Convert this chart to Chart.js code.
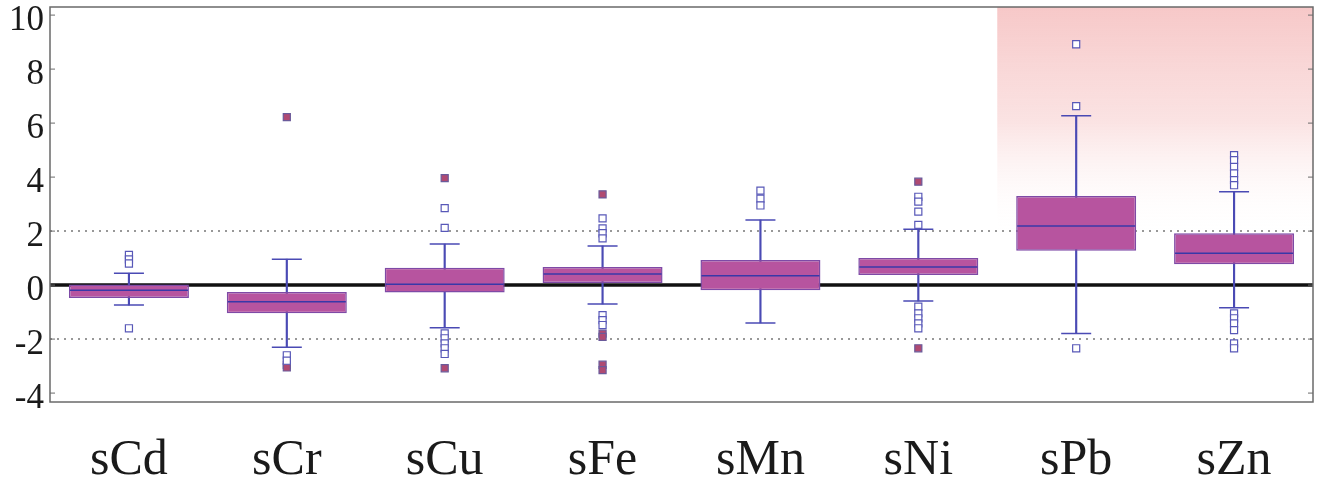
<!DOCTYPE html>
<html>
<head>
<meta charset="utf-8">
<script src="https://cdn.jsdelivr.net/npm/chart.js@4.4.1/dist/chart.umd.min.js"></script>
<style>
  html, body { margin: 0; padding: 0; background: #fff; }
  #wrap { width: 1319px; height: 482px; }
</style>
</head>
<body>
<div id="wrap"><canvas id="box-chart"></canvas></div>
<script>
// categories and box statistics
const categories = ['sCd', 'sCr', 'sCu', 'sFe', 'sMn', 'sNi', 'sPb', 'sZn'];
const q1 = [-0.48, -1.04, -0.27, 0.08, -0.19, 0.37, 1.27, 0.77];
const q3 = [0.02, -0.26, 0.64, 0.67, 0.93, 1.0, 3.3, 1.92];
const medians = [-0.19, -0.62, 0.03, 0.41, 0.35, 0.67, 2.19, 1.18];
const whiskerLow = [-0.74, -2.3, -1.58, -0.7, -1.4, -0.59, -1.79, -0.84];
const whiskerHigh = [0.44, 0.96, 1.52, 1.45, 2.41, 2.07, 6.27, 3.46];

// outliers, one list per category
const outliersOpen = [
  [1.12, 0.95, 0.8, -1.6],
  [-2.6, -2.8],
  [2.85, 2.12, -1.79, -1.97, -2.16, -2.34, -2.55],
  [2.47, 2.1, 1.92, 1.73, -1.11, -1.3, -1.48],
  [3.5, 3.2, 2.95],
  [3.27, 3.09, 2.72, 2.23, -0.8, -1.05, -1.23, -1.42, -1.6],
  [8.92, 6.63, -2.34],
  [4.81, 4.63, 4.38, 4.14, 3.89, 3.7, -1.05, -1.23, -1.42, -1.67, -2.16, -2.34]
];
const outliersFilled = [
  [],
  [6.22, -2.95, -3.05],
  [3.96, -3.08],
  [3.36, -1.8, -1.92, -2.95, -3.15],
  [],
  [3.83, -2.34],
  [],
  []
];

// axis ticks and reference lines
const yTicks = [-4, -2, 0, 2, 4, 6, 8, 10];
const yMin = -4.33;
const yMax = 10.3;
const dottedLines = [2, -2];
const zeroLine = 0;
const shadedCats = ['sPb', 'sZn'];
const shadeDownTo = 1.8;

function pointsFrom(lists) {
  const pts = [];
  lists.forEach((vals, i) => {
    vals.forEach(v => pts.push({ x: categories[i], y: v }));
  });
  return pts;
}

const capPoints = [];
categories.forEach((c, i) => {
  capPoints.push({ x: c, y: whiskerLow[i] });
  capPoints.push({ x: c, y: whiskerHigh[i] });
});

// background shading, reference lines, frame
const backdropPlugin = {
  id: 'backdrop',
  beforeDatasetsDraw(chart) {
    const { ctx, chartArea, scales } = chart;
    const x = scales.x, y = scales.y;
    const half = (x.getPixelForValue(1) - x.getPixelForValue(0)) / 2;

    // pink shaded region
    const i0 = categories.indexOf(shadedCats[0]);
    const i1 = categories.indexOf(shadedCats[1]);
    const left = x.getPixelForValue(i0) - half;
    const right = Math.min(x.getPixelForValue(i1) + half, chartArea.right);
    const bottom = y.getPixelForValue(shadeDownTo);
    const grad = ctx.createLinearGradient(0, chartArea.top, 0, bottom);
    grad.addColorStop(0, 'rgba(245, 190, 190, 0.85)');
    grad.addColorStop(0.5, 'rgba(248, 208, 208, 0.6)');
    grad.addColorStop(1, 'rgba(255, 255, 255, 0)');
    ctx.save();
    ctx.fillStyle = grad;
    ctx.fillRect(left, chartArea.top, right - left, bottom - chartArea.top);

    // dotted reference lines
    ctx.strokeStyle = '#777';
    ctx.lineWidth = 1.5;
    ctx.setLineDash([2, 5]);
    dottedLines.forEach(v => {
      const py = y.getPixelForValue(v);
      ctx.beginPath();
      ctx.moveTo(chartArea.left, py);
      ctx.lineTo(chartArea.right, py);
      ctx.stroke();
    });

    // zero line
    ctx.setLineDash([]);
    ctx.strokeStyle = '#111';
    ctx.lineWidth = 3.5;
    const pz = y.getPixelForValue(zeroLine);
    ctx.beginPath();
    ctx.moveTo(chartArea.left, pz);
    ctx.lineTo(chartArea.right, pz);
    ctx.stroke();
    ctx.restore();
  },
  afterDraw(chart) {
    const { ctx, chartArea, scales } = chart;
    ctx.save();
    ctx.strokeStyle = '#6a6a6a';
    ctx.lineWidth = 1.5;
    ctx.strokeRect(chartArea.left, chartArea.top, chartArea.right - chartArea.left, chartArea.bottom - chartArea.top);
    // small inward ticks on both sides
    ctx.lineWidth = 1;
    yTicks.forEach(v => {
      const py = scales.y.getPixelForValue(v);
      ctx.beginPath();
      ctx.moveTo(chartArea.left, py);
      ctx.lineTo(chartArea.left + 5, py);
      ctx.moveTo(chartArea.right, py);
      ctx.lineTo(chartArea.right - 5, py);
      ctx.stroke();
    });
    ctx.restore();
  }
};

// keep the plot frame where the reference has it
function noPadding(axis) {
  axis.paddingLeft = 0;
  axis.paddingRight = 0;
  axis.paddingTop = 0;
  axis.paddingBottom = 0;
}

const ctx = document.getElementById('box-chart').getContext('2d');
new Chart(ctx, {
  type: 'bar',
  data: {
    labels: categories,
    datasets: [
      {
        // whiskers
        type: 'bar',
        data: categories.map((c, i) => [whiskerLow[i], whiskerHigh[i]]),
        backgroundColor: '#4a4ab4',
        borderWidth: 0,
        barThickness: 1.5,
        grouped: false,
        order: 4
      },
      {
        // boxes
        type: 'bar',
        data: categories.map((c, i) => [q1[i], q3[i]]),
        backgroundColor: '#b7549f',
        borderColor: '#7e4aa6',
        borderWidth: 1.5,
        borderSkipped: false,
        barPercentage: 0.76,
        categoryPercentage: 1,
        grouped: false,
        order: 3
      },
      {
        // medians
        type: 'line',
        data: categories.map((c, i) => ({ x: c, y: medians[i] })),
        showLine: false,
        pointStyle: 'line',
        pointRadius: 59,
        pointBorderColor: '#3838a8',
        pointBorderWidth: 1.5,
        order: 2
      },
      {
        // whisker caps
        type: 'line',
        data: capPoints,
        showLine: false,
        pointStyle: 'line',
        pointRadius: 15,
        pointBorderColor: '#4a4ab4',
        pointBorderWidth: 1.5,
        order: 2
      },
      {
        // open outliers
        type: 'line',
        data: pointsFrom(outliersOpen),
        showLine: false,
        pointStyle: 'rect',
        pointRadius: 5,
        pointBackgroundColor: '#ffffff',
        pointBorderColor: '#5858b8',
        pointBorderWidth: 1.2,
        order: 1
      },
      {
        // filled outliers
        type: 'line',
        data: pointsFrom(outliersFilled),
        showLine: false,
        pointStyle: 'rect',
        pointRadius: 5,
        pointBackgroundColor: '#b04a72',
        pointBorderColor: '#6a5a9a',
        pointBorderWidth: 1.2,
        order: 1
      }
    ]
  },
  options: {
    responsive: true,
    maintainAspectRatio: false,
    animation: false,
    events: [],
    layout: { autoPadding: false, padding: { left: 9, right: 6, top: 7, bottom: 0 } },
    plugins: {
      legend: { display: false },
      tooltip: { enabled: false }
    },
    scales: {
      x: {
        type: 'category',
        offset: true,
        grid: { display: false, drawTicks: false },
        border: { display: false },
        afterFit: axis => { axis.height = 80; noPadding(axis); },
        ticks: {
          color: '#1a1a1a',
          padding: 34,
          maxRotation: 0,
          font: { family: 'Liberation Serif', size: 50, lineHeight: 1.0 }
        }
      },
      y: {
        min: yMin,
        max: yMax,
        afterBuildTicks: axis => { axis.ticks = yTicks.map(v => ({ value: v })); },
        afterFit: axis => { axis.width = 41; noPadding(axis); },
        grid: { display: false, drawTicks: false },
        border: { display: false },
        ticks: {
          color: '#1a1a1a',
          padding: 6,
          labelOffset: 6,
          font: { family: 'Liberation Serif', size: 35 }
        }
      }
    }
  },
  plugins: [backdropPlugin]
});
</script>
</body>
</html>
